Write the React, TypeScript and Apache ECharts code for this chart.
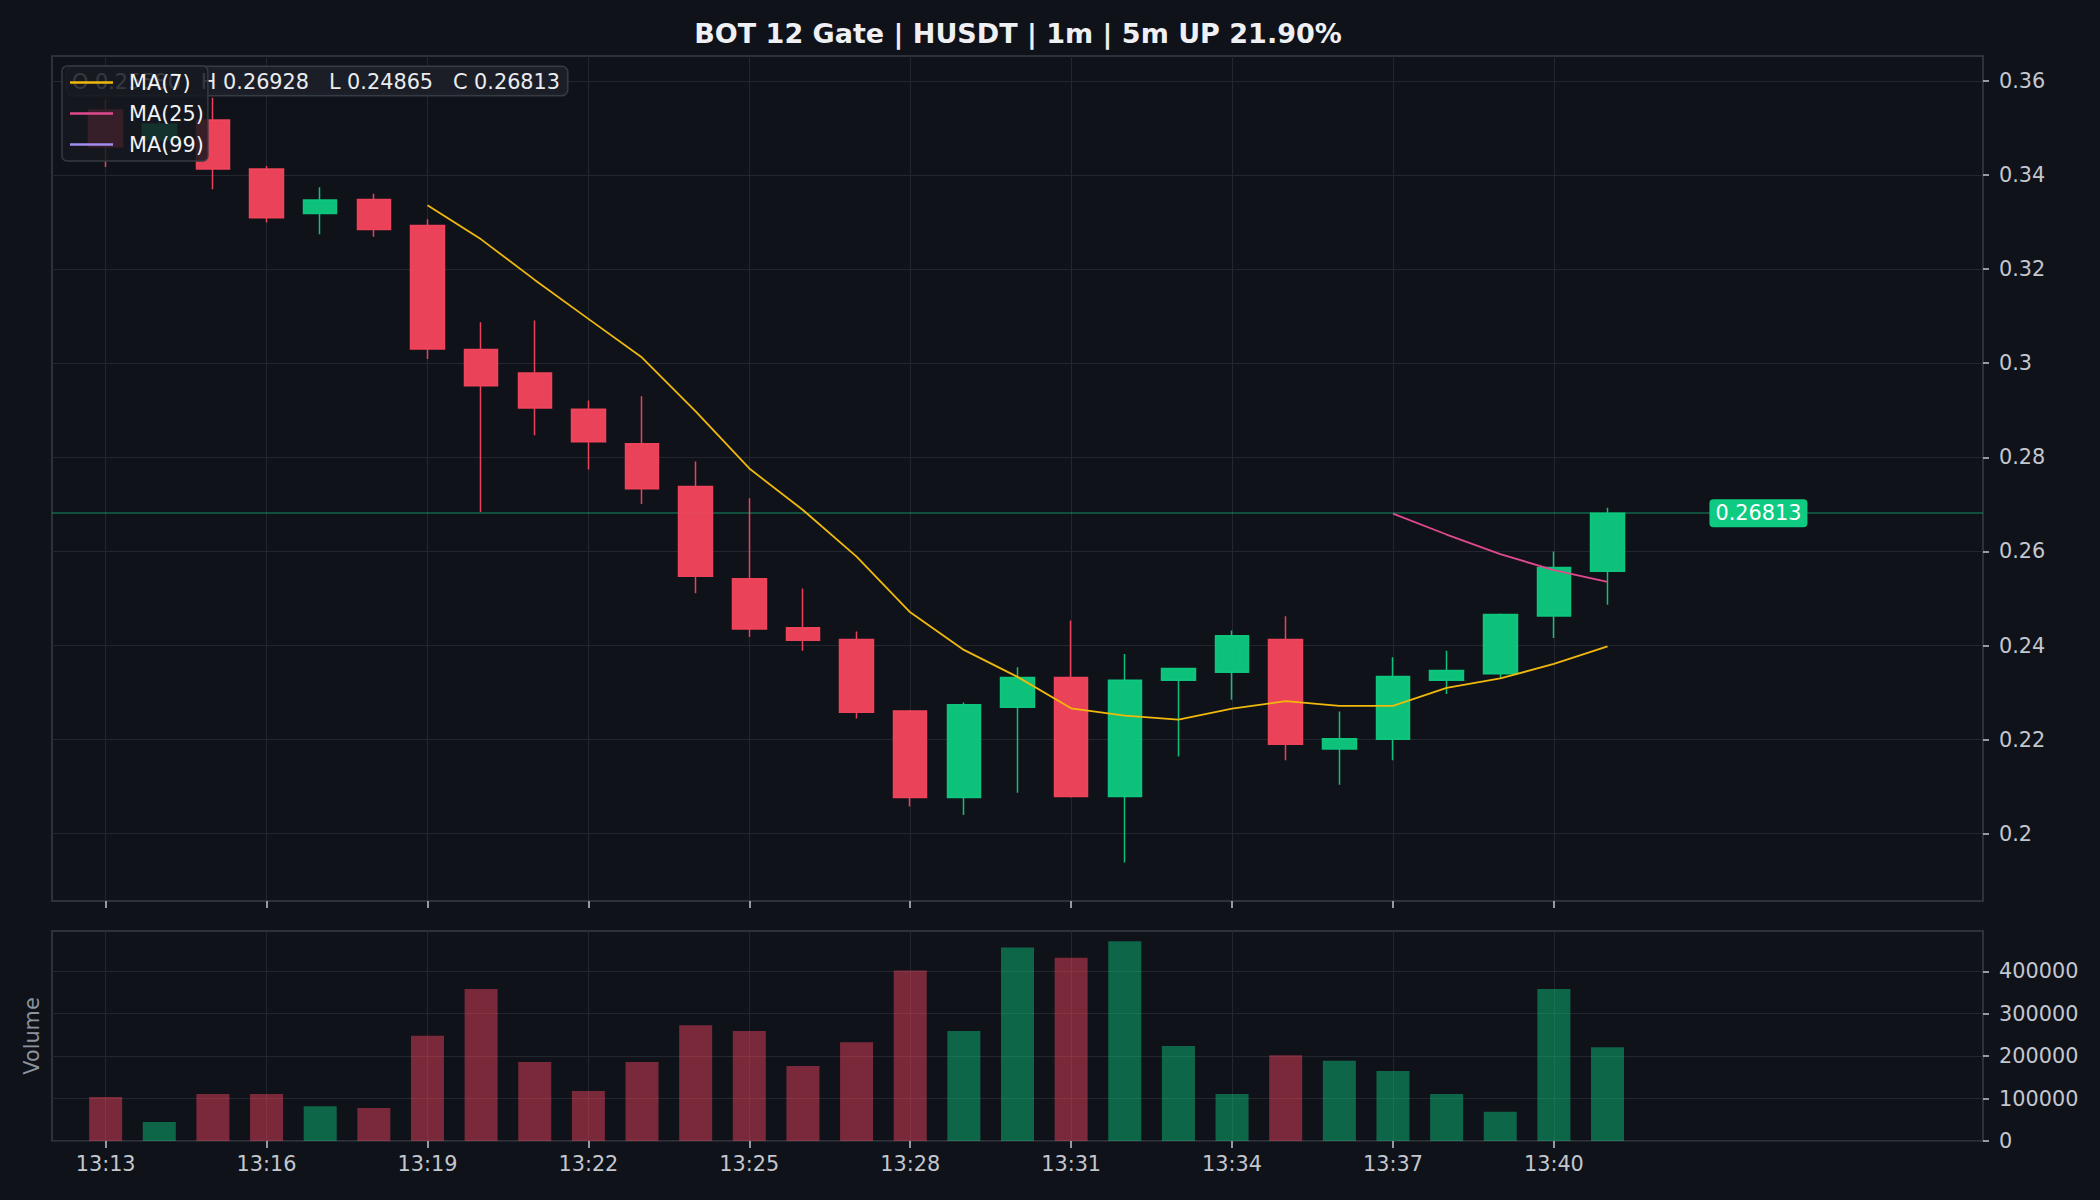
import React, { useEffect, useRef } from 'react';
import * as echarts from 'echarts';

// ---------- data ----------
const chartTitle = 'BOT 12 Gate | HUSDT | 1m | 5m UP 21.90%';

// full category range of the x axis (one per minute)
const axisMinutes = [
  '13:12', '13:13', '13:14', '13:15', '13:16', '13:17', '13:18', '13:19', '13:20', '13:21',
  '13:22', '13:23', '13:24', '13:25', '13:26', '13:27', '13:28', '13:29', '13:30', '13:31',
  '13:32', '13:33', '13:34', '13:35', '13:36', '13:37', '13:38', '13:39', '13:40', '13:41',
  '13:42', '13:43', '13:44', '13:45', '13:46', '13:47', '13:48',
];
const tickMinutes = ['13:13', '13:16', '13:19', '13:22', '13:25', '13:28', '13:31', '13:34', '13:37', '13:40'];

const candleTimes = [
  '13:13', '13:14', '13:15', '13:16', '13:17', '13:18', '13:19', '13:20', '13:21', '13:22',
  '13:23', '13:24', '13:25', '13:26', '13:27', '13:28', '13:29', '13:30', '13:31', '13:32',
  '13:33', '13:34', '13:35', '13:36', '13:37', '13:38', '13:39', '13:40', '13:41',
];
const opens = [
  0.3538, 0.3475, 0.3517, 0.3413, 0.3318, 0.3348, 0.3293, 0.3029, 0.2979, 0.2902,
  0.2829, 0.2738, 0.2542, 0.2438, 0.2413, 0.2261, 0.2077, 0.2269, 0.2332, 0.2079,
  0.2326, 0.2343, 0.2413, 0.2180, 0.2201, 0.2326, 0.2340, 0.2463, 0.2558,
];
const highs = [
  0.3560, 0.3525, 0.3564, 0.3419, 0.3374, 0.3360, 0.3306, 0.3087, 0.3091, 0.2921,
  0.2930, 0.2791, 0.2713, 0.2521, 0.2430, 0.2263, 0.2279, 0.2354, 0.2453, 0.2382,
  0.2353, 0.2432, 0.2462, 0.2260, 0.2375, 0.2389, 0.2468, 0.2600, 0.26928,
];
const lows = [
  0.3417, 0.3470, 0.3370, 0.3299, 0.3274, 0.3269, 0.3009, 0.2684, 0.2847, 0.2774,
  0.2701, 0.2511, 0.2418, 0.2389, 0.2245, 0.2058, 0.2040, 0.2087, 0.2077, 0.1939,
  0.2164, 0.2285, 0.2156, 0.2104, 0.2156, 0.2297, 0.2330, 0.2416, 0.24865,
];
const closes = [
  0.3460, 0.3508, 0.3413, 0.3309, 0.3347, 0.3284, 0.3030, 0.2952, 0.2905, 0.2833,
  0.2733, 0.2547, 0.2435, 0.2411, 0.2258, 0.2077, 0.2274, 0.2332, 0.2079, 0.2326,
  0.2351, 0.2421, 0.2190, 0.2202, 0.2334, 0.2347, 0.2466, 0.2566, 0.26813,
];
const volumes = [
  104000, 45000, 111000, 111000, 82000, 78000, 248000, 358000, 186000, 118000,
  186000, 273000, 259000, 177000, 233000, 402000, 259000, 456000, 432000, 471000,
  224000, 111000, 202000, 189000, 165000, 111000, 69000, 358000, 221000,
];
const ma7 = [
  null, null, null, null, null, null, 0.33359, 0.32633, 0.31771, 0.30943,
  0.30120, 0.28977, 0.27764, 0.26880, 0.25889, 0.24706, 0.23907, 0.23334, 0.22666, 0.22510,
  0.22424, 0.22657, 0.22819, 0.22716, 0.22719, 0.23101, 0.23301, 0.23609, 0.23980,
];
const ma25 = [
  null, null, null, null, null, null, null, null, null, null,
  null, null, null, null, null, null, null, null, null, null,
  null, null, null, null, 0.26804, 0.26359, 0.25942, 0.25604, 0.25353,
];
const ma99: (number | null)[] = [];

const priceTicks = [0.2, 0.22, 0.24, 0.26, 0.28, 0.3, 0.32, 0.34, 0.36];
const volumeTicks = [0, 100000, 200000, 300000, 400000];
const priceMin = 0.1857;
const priceMax = 0.3653;
const volumeMax = 495000;

const lastPrice = 0.26813;
const lastPriceLabelTime = '13:44';
const ohlcValues = { O: 0.2558, H: 0.26928, L: 0.24865, C: 0.26813 };

// ---------- styles ----------
const FONT = 'DejaVu Sans';
const BG = '#10121a';
const UP = '#0ecb81';
const DOWN = '#f6465d';
const GRID_LINE = '#23262e';
const BORDER = '#3a3d45';
const TICK_TEXT = '#c3c7ce';

const showTick = (_i: number, v: string) => tickMinutes.indexOf(v) >= 0;

function pairs(vals: (number | null)[]) {
  const out: [string, number][] = [];
  vals.forEach((v, i) => {
    if (v !== null && v !== undefined) out.push([candleTimes[i], v]);
  });
  return out;
}

export default function App() {
  const ref = useRef<HTMLDivElement>(null);

  useEffect(() => {
    if (!ref.current) return;
    const chart = echarts.init(ref.current, undefined, { renderer: 'svg' });

    const xAxisCommon = {
      type: 'category' as const,
      data: axisMinutes,
      boundaryGap: false,
      axisLine: { show: false },
      axisTick: { show: true, interval: showTick, length: 7, lineStyle: { color: TICK_TEXT, width: 1.5 } },
      splitLine: { show: true, interval: showTick, lineStyle: { color: GRID_LINE, width: 1 } },
    };

    const option: any = {
      animation: false,
      backgroundColor: BG,
      textStyle: { fontFamily: FONT },
      grid: [
        { left: 52, top: 56, width: 1931, height: 845, show: true, borderColor: BORDER, borderWidth: 1.5, backgroundColor: 'transparent' },
        { left: 52, top: 931, width: 1931, height: 210, show: true, borderColor: BORDER, borderWidth: 1.5, backgroundColor: 'transparent' },
      ],
      legend: {
        data: ['MA(7)', 'MA(25)', 'MA(99)'],
        orient: 'vertical',
        left: 62,
        top: 66,
        padding: [6, 4, 6, 8],
        itemGap: 10,
        itemWidth: 43,
        itemHeight: 2.5,
        icon: 'rect',
        backgroundColor: 'rgba(22,25,32,0.85)',
        borderColor: '#363a43',
        borderWidth: 1.5,
        borderRadius: 5,
        textStyle: { color: '#f2f3f5', fontSize: 20.8, fontFamily: FONT, padding: [0, 0, 0, 11] },
        z: 10,
      },
      xAxis: [
        { ...xAxisCommon, gridIndex: 0, axisLabel: { show: false } },
        {
          ...xAxisCommon,
          gridIndex: 1,
          axisLabel: { show: true, interval: showTick, color: TICK_TEXT, fontSize: 20.8, fontFamily: FONT, margin: 12 },
        },
      ],
      yAxis: [
        {
          type: 'value',
          gridIndex: 0,
          position: 'right',
          min: priceMin,
          max: priceMax,
          axisLine: { show: false },
          axisTick: { show: true, length: 6, customValues: priceTicks, lineStyle: { color: TICK_TEXT, width: 1.5 } },
          axisLabel: {
            show: true,
            customValues: priceTicks,
            color: TICK_TEXT,
            fontSize: 20.8,
            fontFamily: FONT,
            margin: 16,
            formatter: (v: number) => String(parseFloat(Number(v).toFixed(4))),
          },
          splitLine: { show: true, lineStyle: { color: GRID_LINE, width: 1 } },
        },
        {
          type: 'value',
          gridIndex: 1,
          position: 'right',
          min: 0,
          max: volumeMax,
          axisLine: { show: false },
          axisTick: { show: true, length: 6, customValues: volumeTicks, lineStyle: { color: TICK_TEXT, width: 1.5 } },
          axisLabel: {
            show: true,
            customValues: volumeTicks,
            color: TICK_TEXT,
            fontSize: 20.8,
            fontFamily: FONT,
            margin: 16,
            formatter: (v: number) => String(Math.round(v)),
          },
          splitLine: { show: true, lineStyle: { color: GRID_LINE, width: 1 } },
        },
      ],
      series: [
        {
          name: 'K',
          type: 'candlestick',
          xAxisIndex: 0,
          yAxisIndex: 0,
          barWidth: 34,
          z: 2,
          data: candleTimes.map((t, i) => [t, opens[i], closes[i], lows[i], highs[i]]),
          encode: { x: 0, y: [1, 2, 3, 4] },
          itemStyle: {
            color: UP,
            color0: DOWN,
            borderColor: UP,
            borderColor0: DOWN,
            borderWidth: 1.5,
            opacity: 0.95,
          },
          markPoint: {
            silent: true,
            symbol: 'rect',
            symbolSize: 1,
            itemStyle: { color: 'rgba(0,0,0,0)' },
            label: {
              show: true,
              position: 'inside',
              offset: [-10, 0],
              color: '#ffffff',
              fontSize: 20.8,
              fontFamily: FONT,
              backgroundColor: UP,
              borderRadius: 4,
              padding: [4, 6, 3, 6],
              formatter: () => lastPrice.toFixed(5),
            },
            data: [{ coord: [lastPriceLabelTime, lastPrice], value: lastPrice }],
          },
        },
        {
          name: 'MA(7)',
          type: 'line',
          xAxisIndex: 0,
          yAxisIndex: 0,
          symbol: 'none',
          z: 4,
          data: pairs(ma7),
          lineStyle: { color: '#f0b90b', width: 1.8 },
          itemStyle: { color: '#f0b90b' },
          markLine: {
            silent: true,
            precision: 6,
            symbol: ['none', 'none'],
            label: { show: false },
            z: 1,
            lineStyle: { color: 'rgba(14,203,129,0.45)', width: 1.5, type: 'solid' },
            data: [{ yAxis: lastPrice }],
          },
        },
        {
          name: 'MA(25)',
          type: 'line',
          xAxisIndex: 0,
          yAxisIndex: 0,
          symbol: 'none',
          z: 4,
          data: pairs(ma25),
          lineStyle: { color: '#e04a8e', width: 1.8 },
          itemStyle: { color: '#e04a8e' },
        },
        {
          name: 'MA(99)',
          type: 'line',
          xAxisIndex: 0,
          yAxisIndex: 0,
          symbol: 'none',
          z: 4,
          data: pairs(ma99),
          lineStyle: { color: '#a28cf0', width: 1.8 },
          itemStyle: { color: '#a28cf0' },
        },
        {
          name: 'Volume',
          type: 'bar',
          xAxisIndex: 1,
          yAxisIndex: 1,
          barWidth: 33,
          data: candleTimes.map((t, i) => ({
            value: [t, volumes[i]],
            itemStyle: { color: closes[i] >= opens[i] ? UP : DOWN, opacity: 0.46 },
          })),
        },
      ],
      graphic: [
        {
          type: 'text',
          x: 1018,
          y: 33,
          z: 10,
          style: {
            text: chartTitle,
            fill: '#eef0f3',
            font: `bold 27px "${FONT}"`,
            textAlign: 'center',
            textVerticalAlign: 'middle',
          },
        },
        {
          type: 'text',
          x: 67,
          y: 67,
          z: 3,
          style: {
            text: `O ${ohlcValues.O.toFixed(5)}   H ${ohlcValues.H.toFixed(5)}   L ${ohlcValues.L.toFixed(5)}   C ${ohlcValues.C.toFixed(5)}`,
            fill: '#eaecef',
            font: `20.8px "${FONT}"`,
            backgroundColor: 'rgba(28,32,40,0.92)',
            borderColor: '#363a43',
            borderWidth: 1.5,
            borderRadius: 5,
            padding: [4, 7, 3, 5],
          },
        },
        {
          type: 'text',
          x: 32,
          y: 1036,
          rotation: Math.PI / 2,
          z: 10,
          style: {
            text: 'Volume',
            fill: '#8e949c',
            font: `20.8px "${FONT}"`,
            textAlign: 'center',
            textVerticalAlign: 'middle',
          },
        },
      ],
    };

    chart.setOption(option);
    return () => chart.dispose();
  }, []);

  return (
    <div
      ref={ref}
      style={{ position: 'fixed', left: 0, top: 0, width: 2100, height: 1200, background: BG }}
    />
  );
}
